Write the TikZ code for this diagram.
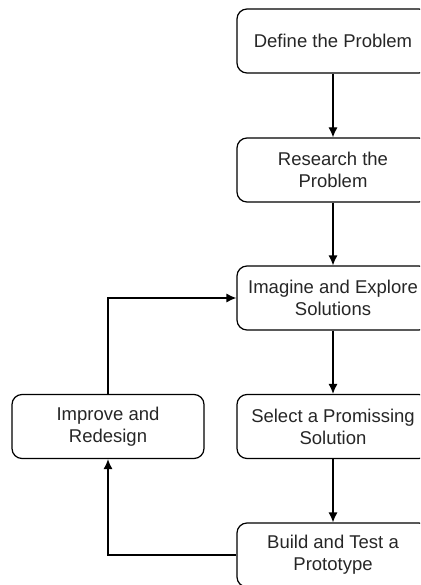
\documentclass[tikz,border=0pt]{standalone}
\usepackage{fontspec}
\setmainfont{Liberation Sans}
\usetikzlibrary{arrows.meta}

\tikzset{
  stepbox/.style={draw, rounded corners=10pt, line width=1.2pt,
    minimum width=192pt, minimum height=64pt, align=center,
    font=\fontsize{18.5}{22}\selectfont, text=black!85},
  flow/.style={line width=1.2pt, -{Latex[length=10pt,width=9pt]}}
}

\begin{document}
\begin{tikzpicture}[x=1pt,y=-1pt]
      \useasboundingbox (0,0) rectangle (420,585);
      \clip (0,0) rectangle (420,585);

      %% steps
      \node[stepbox] (define) at (333,41) {Define the Problem};
      \node[stepbox] (research) at (333,170) {Research the\\Problem};
      \node[stepbox] (imagine) at (333,298) {Imagine and Explore\\Solutions};
      \node[stepbox] (select) at (333,426.5) {Select a Promissing\\Solution};
      \node[stepbox] (build) at (333,555) {Build and Test a\\Prototype};
      \node[stepbox] (improve) at (108,426.5) {Improve and\\Redesign};

      %% main flow
      \draw[flow] (define) -- (research);
      \draw[flow] (research) -- (imagine);
      \draw[flow] (imagine) -- (select);
      \draw[flow] (select) -- (build);

      %% loop back
      \draw[flow] (build.west) -| (improve.south);
      \draw[flow] (improve.north) |- (imagine.west);
\end{tikzpicture}
\end{document}
